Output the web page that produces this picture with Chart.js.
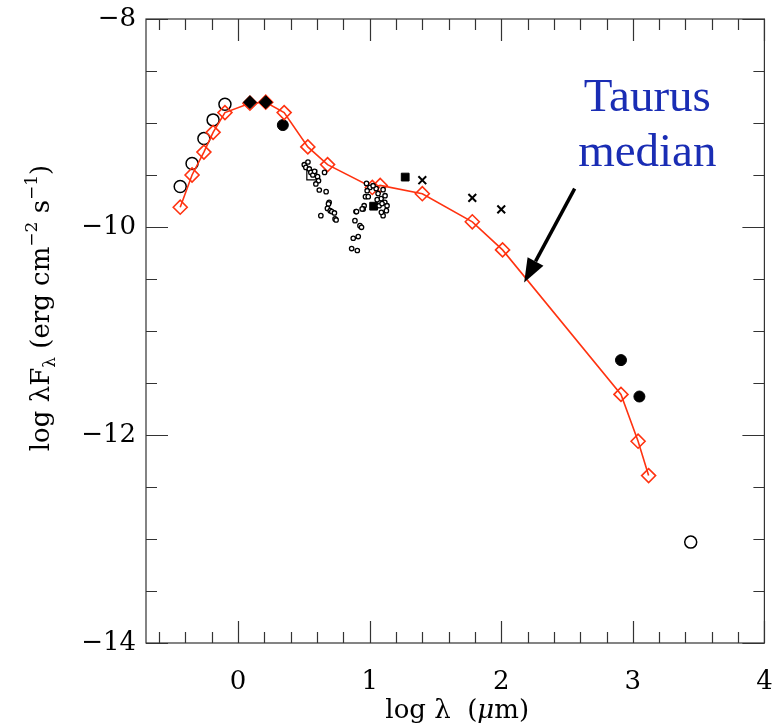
<!DOCTYPE html>
<html>
<head>
<meta charset="utf-8">
<script src="https://cdn.jsdelivr.net/npm/chart.js@4/dist/chart.umd.min.js"></script>
<style>
html,body{margin:0;padding:0;background:#fff;}
#wrap{width:773px;height:726px;position:relative;}
</style>
</head>
<body>
<div id="wrap"><canvas id="c"></canvas></div>
<script>
// ---- data (log lambda [um], log lambda F_lambda [erg cm^-2 s^-1]) ----
const medianX = [-0.44,-0.35,-0.26,-0.19,-0.10,0.09,0.21,0.35,0.53,0.68,1.02,1.08,1.40,1.78,2.01,2.91,3.04,3.12];
const medianY = [-9.81,-9.50,-9.28,-9.09,-8.90,-8.81,-8.80,-8.90,-9.23,-9.40,-9.62,-9.60,-9.68,-9.95,-10.22,-11.61,-12.06,-12.39];

const openCircX = [-0.44,-0.35,-0.26,-0.19,-0.10,3.44];
const openCircY = [-9.61,-9.39,-9.15,-8.97,-8.82,-13.03];

const fillCircX = [0.34,2.91,3.05];
const fillCircY = [-9.02,-11.28,-11.63];

const fillDiamX = [0.09,0.21];
const fillDiamY = [-8.80,-8.80];

const fillSqX = [1.03,1.27];
const fillSqY = [-9.80,-9.52];

const crossX = [1.40,1.78,2.00];
const crossY = [-9.55,-9.72,-9.83];

const openSqX = [0.56];
const openSqY = [-9.50];

const dotX = [0.503,0.531,0.515,0.541,0.553,0.568,0.581,0.604,0.611,0.591,0.617,0.669,0.657,0.692,0.687,0.679,0.700,0.712,0.732,0.629,0.737,0.745,
              0.896,0.888,0.926,0.938,0.875,0.913,0.863,0.906,0.976,1.002,0.981,0.968,0.989,0.958,0.951,0.900,0.943,
              1.064,1.087,1.115,1.127,1.102,1.089,1.072,1.094,1.057,1.117,1.049,1.026,1.102,1.132];
const dotY = [-9.401,-9.375,-9.427,-9.442,-9.475,-9.500,-9.465,-9.516,-9.555,-9.586,-9.644,-9.660,-9.475,-9.763,-9.778,-9.821,-9.843,-9.852,-9.865,-9.891,-9.922,-9.932,
              -9.852,-9.939,-9.987,-10.003,-10.108,-10.092,-10.207,-10.226,-9.581,-9.619,-9.651,-9.708,-9.708,-9.795,-9.826,-9.852,-9.826,
              -9.679,-9.727,-9.763,-9.843,-9.891,-9.859,-9.795,-9.775,-9.737,-9.699,-9.631,-9.603,-9.641,-9.795];

const xTickValues = [0,1,2,3,4];
const yTickValues = [-14,-12,-10,-8];
const annotationLines = ['Taurus','median'];

function pts(xs, ys){ return xs.map((x,i)=>({x:x, y:ys[i]})); }

const RED = '#ff3311';
const SERIF = '"DejaVu Serif", "Liberation Serif", serif';

const framePlugin = {
  id:'frame',
  afterDraw(chart){
    const {ctx, chartArea:a, scales:{x, y}} = chart;
    ctx.save();
    ctx.strokeStyle = '#333';
    ctx.lineWidth = 1.2;
    ctx.strokeRect(a.left, a.top, a.right - a.left, a.bottom - a.top);
    ctx.beginPath();
    // x ticks (bottom & top), minor every 0.2
    for (let i = -3; i <= 20; i++) {
      const v = i * 0.2;
      if (v < x.min - 1e-9 || v > x.max + 1e-9) continue;
      const px = Math.round(x.getPixelForValue(v)) + 0.5;
      const major = i % 5 === 0;
      const L = major ? 22 : 11;
      ctx.moveTo(px, a.bottom); ctx.lineTo(px, a.bottom - L);
      ctx.moveTo(px, a.top); ctx.lineTo(px, a.top + L);
    }
    // y ticks (left & right), minor every 0.5
    for (let i = 0; i <= 12; i++) {
      const v = -14 + i * 0.5;
      const py = Math.round(y.getPixelForValue(v)) + 0.5;
      const major = i % 4 === 0;
      const L = major ? 22 : 11;
      ctx.moveTo(a.left, py); ctx.lineTo(a.left + L, py);
      ctx.moveTo(a.right, py); ctx.lineTo(a.right - L, py);
    }
    ctx.stroke();

    // axis titles
    ctx.fillStyle = '#000';
    ctx.textBaseline = 'alphabetic';
    // x title: log λ (μm)
    const fs = 26;
    const parts = [
      {t:'log λ  (', f:`${fs}px ${SERIF}`},
      {t:'μ', f:`italic ${fs}px ${SERIF}`},
      {t:'m)', f:`${fs}px ${SERIF}`}
    ];
    let w = 0;
    parts.forEach(p => { ctx.font = p.f; p.w = ctx.measureText(p.t).width; w += p.w; });
    let cx = (a.left + a.right) / 2 - w / 2 + 2;
    parts.forEach(p => { ctx.font = p.f; ctx.textAlign = 'left'; ctx.fillText(p.t, cx, 718); cx += p.w; });

    // y title rotated: log λF_λ (erg cm^-2 s^-1)
    const yparts = [
      {t:'log λF', s:fs, dy:0},
      {t:'λ', s:17, dy:6},
      {t:' (erg cm', s:fs, dy:0},
      {t:'−2', s:17, dy:-12},
      {t:' s', s:fs, dy:0},
      {t:'−1', s:17, dy:-12},
      {t:')', s:fs, dy:0}
    ];
    let tw = 0;
    yparts.forEach(p => { ctx.font = `${p.s}px ${SERIF}`; p.w = ctx.measureText(p.t).width; tw += p.w; });
    ctx.save();
    ctx.translate(49, 308);
    ctx.rotate(-Math.PI / 2);
    let sx = -tw / 2;
    yparts.forEach(p => { ctx.font = `${p.s}px ${SERIF}`; ctx.textAlign='left'; ctx.fillText(p.t, sx, p.dy); sx += p.w; });
    ctx.restore();

    // annotation text
    ctx.fillStyle = '#1a2db4';
    ctx.font = `47px "Liberation Serif", "Times New Roman", serif`;
    ctx.textAlign = 'center';
    const tx = x.getPixelForValue(3.11);
    ctx.fillText(annotationLines[0], tx, y.getPixelForValue(-8.88));
    ctx.fillText(annotationLines[1], tx, y.getPixelForValue(-9.41));

    // arrow
    const x0 = x.getPixelForValue(2.558), y0 = y.getPixelForValue(-9.631);
    const x1 = x.getPixelForValue(2.174), y1 = y.getPixelForValue(-10.534);
    const ang = Math.atan2(y1 - y0, x1 - x0);
    const hl = 24, hw = 9;
    const bx = x1 - hl * Math.cos(ang), by = y1 - hl * Math.sin(ang);
    ctx.strokeStyle = '#000';
    ctx.lineWidth = 3.5;
    ctx.beginPath(); ctx.moveTo(x0, y0); ctx.lineTo(bx, by); ctx.stroke();
    ctx.fillStyle = '#000';
    ctx.beginPath();
    ctx.moveTo(x1, y1);
    ctx.lineTo(bx + hw * Math.sin(ang), by - hw * Math.cos(ang));
    ctx.lineTo(bx - hw * Math.sin(ang), by + hw * Math.cos(ang));
    ctx.closePath(); ctx.fill();
    ctx.restore();
  }
};

new Chart(document.getElementById('c'), {
  type: 'scatter',
  data: {
    datasets: [
      {label:'dots', data: pts(dotX, dotY), pointStyle:'circle', pointRadius:2.2, borderColor:'#000', borderWidth:1.3, backgroundColor:'#fff', showLine:false},
      {label:'open square', data: pts(openSqX, openSqY), pointStyle:'rect', pointRadius:7, borderColor:'#000', borderWidth:1.2, backgroundColor:'rgba(0,0,0,0)', showLine:false},
      {label:'filled diamonds', data: pts(fillDiamX, fillDiamY), pointStyle:'rectRot', pointRadius:6.5, borderColor:'#000', borderWidth:1, backgroundColor:'#000', showLine:false},
      {label:'median', data: pts(medianX, medianY), showLine:true, borderColor:RED, borderWidth:1.6, pointStyle:'rectRot', pointRadius:7, pointBorderColor:RED, pointBorderWidth:1.6, pointBackgroundColor:'rgba(0,0,0,0)', tension:0},
      {label:'open circles', data: pts(openCircX, openCircY), pointStyle:'circle', pointRadius:6, borderColor:'#000', borderWidth:1.5, backgroundColor:'rgba(0,0,0,0)', showLine:false},
      {label:'filled circles', data: pts(fillCircX, fillCircY), pointStyle:'circle', pointRadius:5.5, borderColor:'#000', borderWidth:1, backgroundColor:'#000', showLine:false},
      {label:'filled squares', data: pts(fillSqX, fillSqY), pointStyle:'rect', pointRadius:5.5, borderColor:'#000', borderWidth:1, backgroundColor:'#000', showLine:false},
      {label:'crosses', data: pts(crossX, crossY), pointStyle:'crossRot', pointRadius:5.5, borderColor:'#000', borderWidth:2, backgroundColor:'#000', showLine:false}
    ]
  },
  options: {
    responsive: true,
    maintainAspectRatio: false,
    animation: false,
    layout: { padding: { top: 19, right: 4, left: 0, bottom: 0 } },
    plugins: { legend: {display:false}, tooltip: {enabled:false} },
    scales: {
      x: {
        type:'linear', min:-0.7, max:4.0,
        grid:{display:false, drawTicks:false},
        border:{display:false},
        ticks:{
          includeBounds:false, stepSize:1, padding:24, color:'#000',
          font:{family:SERIF, size:26},
          maxRotation:0, autoSkip:false,
          callback:(v)=> xTickValues.includes(Math.round(v*1000)/1000) ? String(Math.round(v)) : ''
        },
        afterFit(s){ s.height = 83; s.paddingLeft = 0; s.paddingRight = 0; }
      },
      y: {
        type:'linear', min:-14, max:-8,
        grid:{display:false, drawTicks:false},
        border:{display:false},
        ticks:{
          stepSize:2, padding:10, color:'#000',
          font:{family:SERIF, size:26},
          callback:(v)=> yTickValues.includes(v) ? '\u2212' + Math.abs(v) : ''
        },
        afterFit(s){ s.width = 146; s.paddingTop = 0; s.paddingBottom = 0; }
      }
    }
  },
  plugins: [framePlugin]
});
</script>
</body>
</html>
